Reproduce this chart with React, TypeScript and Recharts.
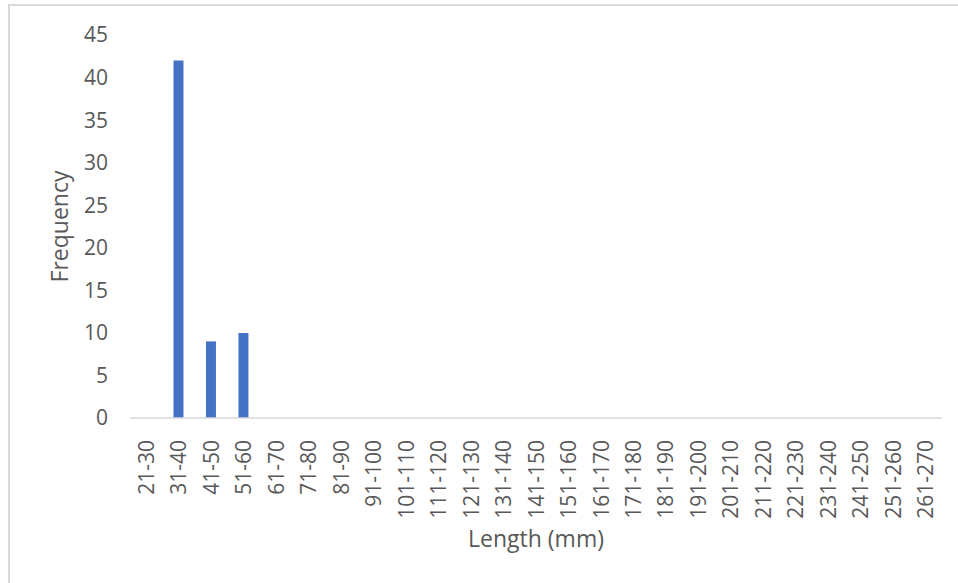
import React from 'react';
import { BarChart, Bar, XAxis, YAxis } from 'recharts';

const categories = ['21-30','31-40','41-50','51-60','61-70','71-80','81-90','91-100','101-110','111-120','121-130','131-140','141-150','151-160','161-170','171-180','181-190','191-200','201-210','211-220','221-230','231-240','241-250','251-260','261-270'];
const frequencies = [0,42,9,10,0,0,0,0,0,0,0,0,0,0,0,0,0,0,0,0,0,0,0,0,0];
const yTicks = [0,5,10,15,20,25,30,35,40,45];

const data = categories.map((c, i) => ({ range: c, freq: frequencies[i] }));

const FONT = "'Open Sans', sans-serif";
const TEXT = '#595959';

const XTick = (props: any) => {
  const { x, y, payload } = props;
  return (
    <text
      x={x}
      y={y + 14}
      dy="0.36em"
      transform={`rotate(-90, ${x}, ${y + 14})`}
      textAnchor="end"
      fill={TEXT}
      fontSize={21}
      fontFamily={FONT}
    >
      {payload.value}
    </text>
  );
};

const YTitle = (props: any) => {
  const vb = props.viewBox || {};
  const cx = 60;
  const cy = (vb.y ?? 0) + (vb.height ?? 0) / 2;
  return (
    <text
      x={cx}
      y={cy}
      dy="0.36em"
      transform={`rotate(-90, ${cx}, ${cy})`}
      textAnchor="middle"
      fill={TEXT}
      fontSize={23}
      fontFamily={FONT}
    >
      Frequency
    </text>
  );
};

export default function App() {
  return (
    <div style={{ position: 'absolute', left: 0, top: 0, width: 958, height: 583, background: '#fff', overflow: 'hidden' }}>
      <div style={{ position: 'absolute', left: 8, top: 4, width: 1000, height: 700, borderLeft: '2px solid #d9d9d9', borderTop: '2px solid #d9d9d9' }} />
      <div style={{ position: 'absolute', left: 0, top: 0 }}>
        <BarChart width={958} height={583} data={data} margin={{ top: 35, right: 16, bottom: 0, left: 0 }} barSize={10}>
          <XAxis
            dataKey="range"
            interval={0}
            height={165}
            tickLine={false}
            axisLine={{ stroke: '#d9d9d9', strokeWidth: 1.5 }}
            tick={<XTick />}
            label={{ value: 'Length (mm)', position: 'insideBottom', offset: 36, fill: TEXT, fontSize: 23, fontFamily: FONT }}
          />
          <YAxis
            width={130}
            domain={[0, 45]}
            ticks={yTicks}
            interval={0}
            axisLine={false}
            tickLine={false}
            tickSize={6}
            tickMargin={16}
            tick={{ fill: TEXT, fontSize: 21, fontFamily: FONT }}
            label={<YTitle />}
          />
          <Bar dataKey="freq" fill="#4472C4" isAnimationActive={false} />
        </BarChart>
      </div>
    </div>
  );
}
